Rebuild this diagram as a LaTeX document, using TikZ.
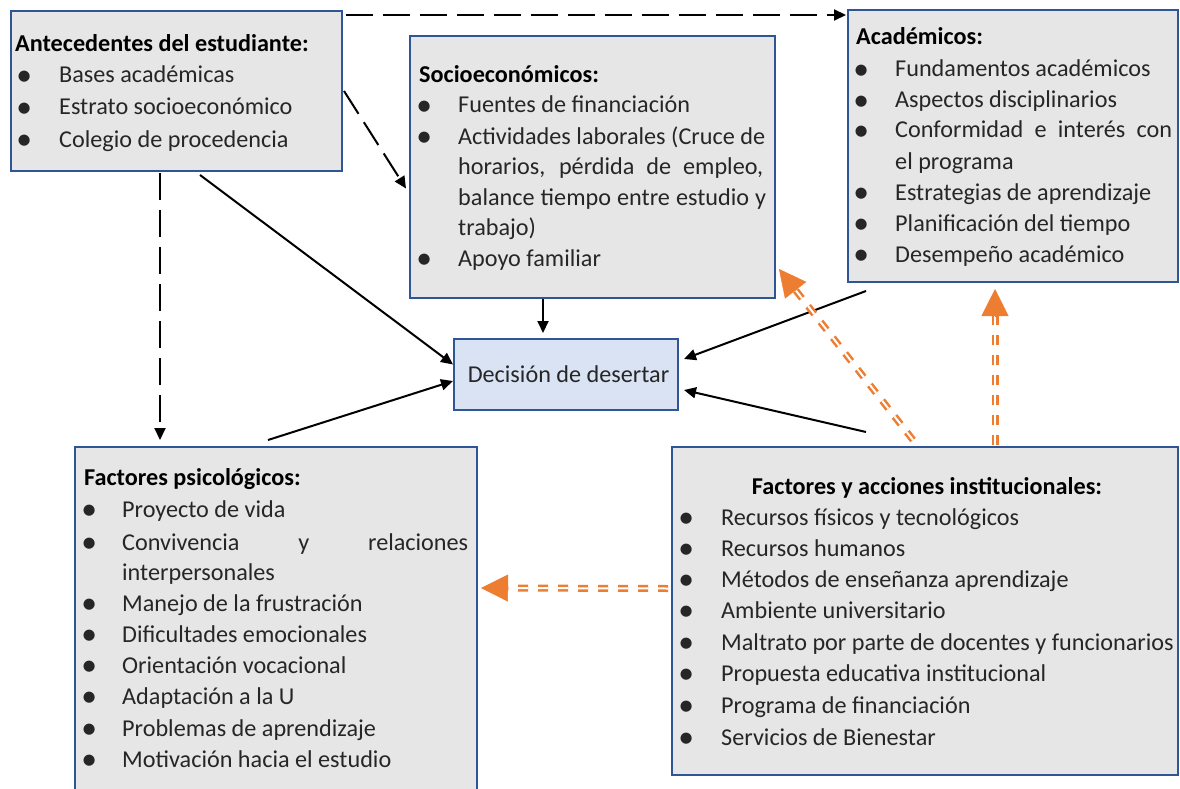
\documentclass[tikz,border=0pt]{standalone}
\usepackage{fontspec}
\usepackage{graphicx}
\setmainfont{Carlito}
\usetikzlibrary{arrows.meta,calc}
\definecolor{boxgray}{RGB}{231,230,230}
\definecolor{boxblue}{RGB}{47,85,151}
\definecolor{decfill}{RGB}{218,227,243}
\definecolor{ora}{RGB}{237,125,49}
\newcommand\mybul{\raisebox{-0.1em}{\scalebox{1.3}{\textbullet}}}
\newcommand\myitem[2]{\makebox[0pt]{\mybul}\hspace{#1}#2}
\begin{document}
\begin{tikzpicture}[x=1pt,y=-1pt,
  box/.style={draw=boxblue, fill=boxgray, line width=2pt, anchor=north west, inner sep=0pt},
  txt/.style={anchor=base west, inner sep=0pt, text height=17pt, text depth=5pt, font=\fontsize{24.2}{28}\selectfont, text=black!85},
  ttl/.style={txt, font=\fontsize{24.2}{28}\selectfont\bfseries, text=black},
  arr/.style={draw=black, line width=2pt, -{Triangle[length=12pt,width=11pt]}},
  dsh/.style={arr, dash pattern=on 27pt off 10pt},
  odbl/.style={draw=ora, line width=2.5pt, double=white, double distance=2pt, dash pattern=on 10pt off 10pt},
  otip/.style={draw=ora, fill=ora, line width=0.5pt, -{Triangle[length=27pt,width=27pt]}}
]
\useasboundingbox (0,0) rectangle (1180,789);
\clip (0,0) rectangle (1180,789);

% boxes
\node[box, minimum width=331pt, minimum height=160pt] (b1) at (10,10) {};
\node[box, minimum width=365pt, minimum height=262pt] (b2) at (409,35) {};
\node[box, minimum width=330pt, minimum height=272pt] (b3) at (847,9) {};
\node[box, fill=decfill, minimum width=224pt, minimum height=71pt, font=\fontsize{24.2}{28}\selectfont, text=black!85] (b4) at (453,338) {\hspace{5pt}Decisión de desertar};
\node[box, minimum width=402pt, minimum height=360pt] (b5) at (74,446) {};
\node[box, minimum width=506pt, minimum height=328pt] (b6) at (671,446) {};

% box 1 text
\node[ttl] (b1t) at (15,52) {Antecedentes del estudiante:};
\node[txt] (b1a) at (24,83) {\myitem{35pt}{Bases académicas}};
\node[txt] (b1b) at (24,115) {\myitem{35pt}{Estrato socioeconómico}};
\node[txt] (b1c) at (24,147) {\myitem{35pt}{Colegio de procedencia}};

% box 2 text
\node[ttl] (b2t) at (419,83) {Socioeconómicos:};
\node[txt] (b2a) at (424,113) {\myitem{34pt}{Fuentes de financiación}};
\node[txt] (b2b) at (424,144) {\myitem{34pt}{\makebox[307pt][s]{Actividades laborales (Cruce de}}};
\node[txt] (b2c) at (458,174) {\makebox[305pt][s]{horarios, pérdida de empleo,}};
\node[txt] (b2d) at (458,205) {\makebox[308pt][s]{balance tiempo entre estudio y}};
\node[txt] (b2e) at (458,235) {trabajo)};
\node[txt] (b2f) at (424,266) {\myitem{34pt}{Apoyo familiar}};

% box 3 text
\node[ttl] (b3t) at (856,45) {Académicos:};
\node[txt] (b3a) at (861,77) {\myitem{34pt}{Fundamentos académicos}};
\node[txt] (b3b) at (861,108) {\myitem{34pt}{Aspectos disciplinarios}};
\node[txt] (b3c) at (861,138) {\myitem{34pt}{\makebox[277pt][s]{Conformidad e interés con}}};
\node[txt] (b3d) at (895,169) {el programa};
\node[txt] (b3e) at (861,200) {\myitem{34pt}{Estrategias de aprendizaje}};
\node[txt] (b3f) at (861,231) {\myitem{34pt}{Planificación del tiempo}};
\node[txt] (b3g) at (861,262) {\myitem{34pt}{Desempeño académico}};

% box 5 text
\node[ttl] (b5t) at (84,485) {Factores psicológicos:};
\node[txt] (b5a) at (89,517) {\myitem{33pt}{Proyecto de vida}};
\node[txt] (b5b) at (89,550) {\myitem{33pt}{\makebox[346pt][s]{Convivencia y relaciones}}};
\node[txt] (b5c) at (122,580) {interpersonales};
\node[txt] (b5d) at (89,611) {\myitem{33pt}{Manejo de la frustración}};
\node[txt] (b5e) at (89,642) {\myitem{33pt}{Dificultades emocionales}};
\node[txt] (b5f) at (89,673) {\myitem{33pt}{Orientación vocacional}};
\node[txt] (b5g) at (89,704) {\myitem{33pt}{Adaptación a la U}};
\node[txt] (b5h) at (89,736) {\myitem{33pt}{Problemas de aprendizaje}};
\node[txt] (b5i) at (89,767) {\myitem{33pt}{Motivación hacia el estudio}};

% box 6 text
\node[ttl, anchor=base] (b6t) at (927,494) {Factores y acciones institucionales:};
\node[txt] (b6a) at (686,525) {\myitem{35pt}{Recursos físicos y tecnológicos}};
\node[txt] (b6b) at (686,556) {\myitem{35pt}{Recursos humanos}};
\node[txt] (b6c) at (686,587) {\myitem{35pt}{Métodos de enseñanza aprendizaje}};
\node[txt] (b6d) at (686,618) {\myitem{35pt}{Ambiente universitario}};
\node[txt] (b6e) at (686,650) {\myitem{35pt}{Maltrato por parte de docentes y funcionarios}};
\node[txt] (b6f) at (686,681) {\myitem{35pt}{Propuesta educativa institucional}};
\node[txt] (b6g) at (686,713) {\myitem{35pt}{Programa de financiación}};
\node[txt] (b6h) at (686,745) {\myitem{35pt}{Servicios de Bienestar}};

% dashed black connectors
\draw[dsh] ($(b1.north east)+(3,5)$) -- ($(b3.north west)+(-1,6)$);
\draw[dsh] ($(b1.east)+(1,0)$) -- ($(b2.west)+(-3,21.5)$);
\draw[dsh] ($(b1.south west)+(150,1)$) -- ($(b5.north west)+(86,-6)$);

% solid black connectors
\draw[arr] ($(b1.south west)+(190,3)$) -- ($(b4.west)+(0,-10)$);
\draw[arr] ($(b2.south west)+(134,0)$) -- ($(b4.north west)+(90,-5)$);
\draw[arr] ($(b5.north west)+(194,-6)$) -- ($(b4.west)+(0,6.5)$);
\draw[arr] ($(b3.south west)+(19,8)$) -- ($(b4.east)+(5,-15.5)$);
\draw[arr] ($(b6.north west)+(195,-14)$) -- ($(b4.east)+(5,15.5)$);

% orange double dashed connectors
\coordinate (o1s) at ($(b6.north west)+(242,-6)$);
\coordinate (o1e) at ($(b2.south east)+(3,-30)$);
\coordinate (o2s) at ($(b6.north west)+(324,-1)$);
\coordinate (o2e) at ($(b3.south west)+(148,6)$);
\coordinate (o3s) at ($(b6.west)+(-3,-22.5)$);
\coordinate (o3e) at ($(b5.north east)+(3,142)$);
\draw[odbl, shorten >=22pt] (o1s) -- (o1e);
\draw[otip] ($(o1e)!28pt!(o1s)$) -- (o1e);
\draw[odbl, shorten >=22pt] (o2s) -- (o2e);
\draw[otip] ($(o2e)!28pt!(o2s)$) -- (o2e);
\draw[odbl, shorten >=22pt] (o3s) -- (o3e);
\draw[otip] ($(o3e)!28pt!(o3s)$) -- (o3e);
\end{tikzpicture}
\end{document}
